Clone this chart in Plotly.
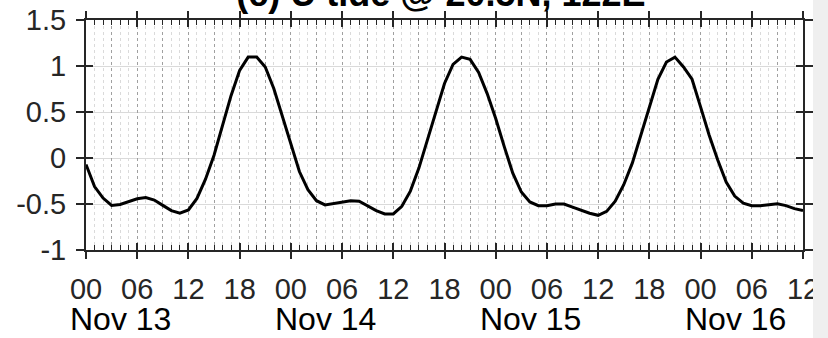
import pandas as pd
import plotly.graph_objects as go

# Hourly U tide series, starting 13 Nov 00:00
start = "2016-11-13 00:00"
u_tide = [
    -0.07, -0.31, -0.435, -0.515, -0.505, -0.47, -0.443, -0.43, -0.457, -0.515,
    -0.572, -0.60, -0.565, -0.44, -0.23, 0.03, 0.36, 0.68, 0.953, 1.097,
    1.097, 0.99, 0.755, 0.45, 0.142, -0.147, -0.345, -0.464, -0.51, -0.497,
    -0.482, -0.464, -0.47, -0.525, -0.572, -0.608, -0.608, -0.525, -0.36, -0.11,
    0.196, 0.52, 0.81, 1.018, 1.097, 1.072, 0.93, 0.70, 0.43, 0.124,
    -0.165, -0.37, -0.478, -0.518, -0.518, -0.50, -0.50, -0.533, -0.569, -0.60,
    -0.623, -0.58, -0.47, -0.29, -0.056, 0.25, 0.575, 0.856, 1.043, 1.097,
    0.99, 0.856, 0.556, 0.25, -0.02, -0.262, -0.414, -0.49, -0.518, -0.518,
    -0.507, -0.497, -0.518, -0.55, -0.572,
]
times = pd.date_range(start, periods=len(u_tide), freq="h")

day_labels = ["Nov 13", "Nov 14", "Nov 15", "Nov 16"]
day_starts = ["2016-11-13", "2016-11-14", "2016-11-15", "2016-11-16"]
y_tickvals = [-1, -0.5, 0, 0.5, 1, 1.5]
y_ticktext = ["-1", "-0.5", "0", "0.5", "1", "1.5"]
x_range = ["2016-11-13 00:00", "2016-11-16 12:00"]
title_text = "(c) U tide @ 20.5N, 122E"

AX = "#262626"
FONT = "Liberation Sans, Arial, sans-serif"
HOUR = 3600000

fig = go.Figure()
fig.add_trace(go.Scatter(
    x=times, y=u_tide, mode="lines",
    line=dict(color="black", width=3),
    showlegend=False, hoverinfo="skip",
))
# empty traces so the overlay axes (grid / inner ticks) get drawn
fig.add_trace(go.Scatter(x=[], y=[], xaxis="x2", yaxis="y2",
                         showlegend=False, hoverinfo="skip"))
fig.add_trace(go.Scatter(x=[], y=[], xaxis="x3", yaxis="y2",
                         showlegend=False, hoverinfo="skip"))

fig.update_layout(
    width=828, height=338,
    margin=dict(l=86, r=25, t=20, b=88, autoexpand=False),
    paper_bgcolor="white", plot_bgcolor="white",
    font=dict(family=FONT, color=AX),
    title=dict(
        text="<b>" + title_text + "</b>",
        font=dict(size=36, color="black", family=FONT),
        x=441 / 828, xanchor="center", xref="container",
        y=1 - 6 / 338, yanchor="bottom", yref="container",
        automargin=False,
    ),
    xaxis=dict(
        type="date", range=x_range, automargin=False,
        tick0=start, dtick=6 * HOUR, tickformat="%H",
        ticks="outside", ticklen=7, tickwidth=1.5, tickcolor=AX,
        tickfont=dict(size=29, color=AX),
        ticklabelstandoff=5,
        showline=True, linecolor=AX, linewidth=2, mirror="ticks",
        showgrid=False, zeroline=False,
    ),
    xaxis2=dict(
        type="date", overlaying="x", matches="x", anchor="y", automargin=False,
        tick0=start, dtick=3 * HOUR,
        showgrid=True, griddash="dot", gridcolor="#a0a0a0", gridwidth=1,
        ticks="", showticklabels=False, showline=False, zeroline=False,
        minor=dict(dtick=HOUR, showgrid=True, gridcolor="#dadada",
                   gridwidth=1, ticks=""),
    ),
    xaxis3=dict(
        type="date", overlaying="x", matches="x", anchor="y", automargin=False,
        tick0=start, dtick=6 * HOUR,
        ticks="inside", ticklen=7, tickwidth=1.5, tickcolor=AX,
        mirror="ticks", showticklabels=False, showline=False,
        showgrid=False, zeroline=False,
        minor=dict(dtick=HOUR, ticks="inside", ticklen=5,
                   tickwidth=1.2, tickcolor=AX, showgrid=False),
    ),
    yaxis=dict(
        range=[-1, 1.5], tickvals=y_tickvals, ticktext=y_ticktext,
        automargin=False,
        ticks="outside", ticklen=8, tickwidth=1.5, tickcolor=AX,
        tickfont=dict(size=29, color=AX),
        ticklabelstandoff=4,
        showline=True, linecolor=AX, linewidth=2, mirror="ticks",
        showgrid=True, gridcolor="#dadada", gridwidth=1, zeroline=False,
    ),
    yaxis2=dict(
        overlaying="y", matches="y", anchor="x", automargin=False,
        tickvals=y_tickvals,
        ticks="inside", ticklen=7, tickwidth=1.5, tickcolor=AX,
        mirror="ticks", showticklabels=False, showline=False,
        showgrid=False, zeroline=False,
    ),
)

# day labels under the hour labels
for day, label in zip(day_starts, day_labels):
    fig.add_annotation(
        x=day, xref="x", y=0, yref="paper",
        text=label, showarrow=False,
        xanchor="left", yanchor="top", xshift=-18, yshift=-49,
        font=dict(size=32, color="black", family=FONT),
    )

# light border band at the right edge
fig.add_shape(
    type="rect", xref="paper", yref="paper",
    x0=(813 - 86) / 717, x1=(830 - 86) / 717,
    y0=-90 / 230, y1=1 + 22 / 230,
    fillcolor="#efefef", line=dict(width=0), layer="above",
)

fig.write_html("out.html")
